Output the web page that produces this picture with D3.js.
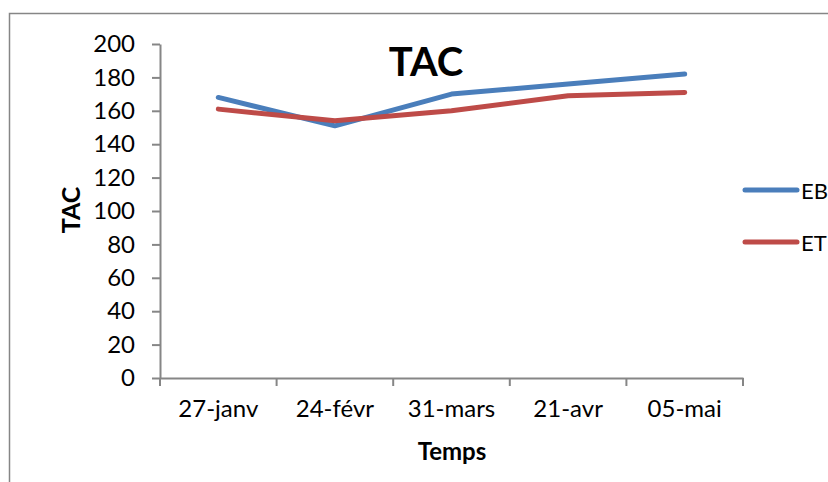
<!DOCTYPE html>
<html>
<head>
<meta charset="utf-8">
<script src="https://cdn.jsdelivr.net/npm/d3@7"></script>
<style>
  html, body { margin: 0; padding: 0; background: #fff; }
  svg { display: block; font-family: Lato, "Open Sans", sans-serif; }
</style>
</head>
<body>
<svg id="chart" width="828" height="482"></svg>
<script>
// Sampling dates and TAC measurements for the two series
const categories = ["27-janv", "24-févr", "31-mars", "21-avr", "05-mai"];
const ebValues = [168, 151, 170, 176, 182];
const etValues = [161, 154, 160, 169, 171];
const seriesNames = ["EB", "ET"];
const seriesColors = ["#4a7ebb", "#be4b48"];
const yTicks = [0, 20, 40, 60, 80, 100, 120, 140, 160, 180, 200];

const svg = d3.select("#chart");
const axisColor = "#868686";

// Outer chart frame
svg.append("rect")
  .attr("x", 9.5).attr("y", 13.5)
  .attr("width", 900).attr("height", 600)
  .attr("fill", "none").attr("stroke", axisColor).attr("stroke-width", 1.5);

const x = d3.scaleBand().domain(categories).range([160, 743]);
const y = d3.scaleLinear().domain([0, 200]).range([378, 44]);

// Y axis
const yAxis = svg.append("g")
  .attr("transform", "translate(160,0)")
  .call(d3.axisLeft(y).tickValues(yTicks).tickSize(8).tickPadding(17).tickSizeOuter(0));
yAxis.select(".domain").attr("stroke", axisColor).attr("stroke-width", 2);
yAxis.selectAll(".tick line").attr("stroke", axisColor).attr("stroke-width", 2);
yAxis.selectAll(".tick text")
  .attr("font-family", "Lato, sans-serif").attr("font-size", 24).attr("fill", "#000");

// X axis with labels centred in each band
const xAxis = svg.append("g")
  .attr("transform", "translate(0,378)")
  .call(d3.axisBottom(x).tickSize(0).tickPadding(22).tickSizeOuter(0));
xAxis.select(".domain").attr("stroke", axisColor).attr("stroke-width", 2);
xAxis.selectAll(".tick text")
  .attr("font-family", "Lato, sans-serif").attr("font-size", 24).attr("fill", "#000");

// Tick marks at the band boundaries
const boundaries = categories.map(c => x(c)).concat([x.range()[1]]);
xAxis.selectAll("line.boundary")
  .data(boundaries)
  .join("line")
  .attr("class", "boundary")
  .attr("x1", d => d).attr("x2", d => d)
  .attr("y1", 0).attr("y2", 8)
  .attr("stroke", axisColor).attr("stroke-width", 2);

// Series lines
const line = d3.line()
  .x((d, i) => x(categories[i]) + x.bandwidth() / 2)
  .y(d => y(d));

[ebValues, etValues].forEach((vals, k) => {
  svg.append("path")
    .datum(vals)
    .attr("d", line)
    .attr("fill", "none")
    .attr("stroke", seriesColors[k])
    .attr("stroke-width", 5)
    .attr("stroke-linejoin", "round")
    .attr("stroke-linecap", "round");
});

// Legend
const legendY = [190, 242];
seriesNames.forEach((name, k) => {
  svg.append("line")
    .attr("x1", 745).attr("x2", 797)
    .attr("y1", legendY[k]).attr("y2", legendY[k])
    .attr("stroke", seriesColors[k]).attr("stroke-width", 5)
    .attr("stroke-linecap", "round");
  svg.append("text")
    .attr("x", 801).attr("y", legendY[k] + 9)
    .attr("font-size", 22).attr("fill", "#000")
    .text(name);
});

// Titles
svg.append("text")
  .attr("x", 426).attr("y", 76)
  .attr("text-anchor", "middle")
  .attr("font-size", 40).attr("font-weight", "bold").attr("fill", "#000")
  .text("TAC");

svg.append("text")
  .attr("transform", "translate(80,210) rotate(-90)")
  .attr("text-anchor", "middle")
  .attr("font-size", 25).attr("font-weight", "bold").attr("fill", "#000")
  .text("TAC");

svg.append("text")
  .attr("x", 452).attr("y", 460)
  .attr("text-anchor", "middle")
  .attr("font-size", 24).attr("font-weight", "bold").attr("fill", "#000")
  .text("Temps");
</script>
</body>
</html>
